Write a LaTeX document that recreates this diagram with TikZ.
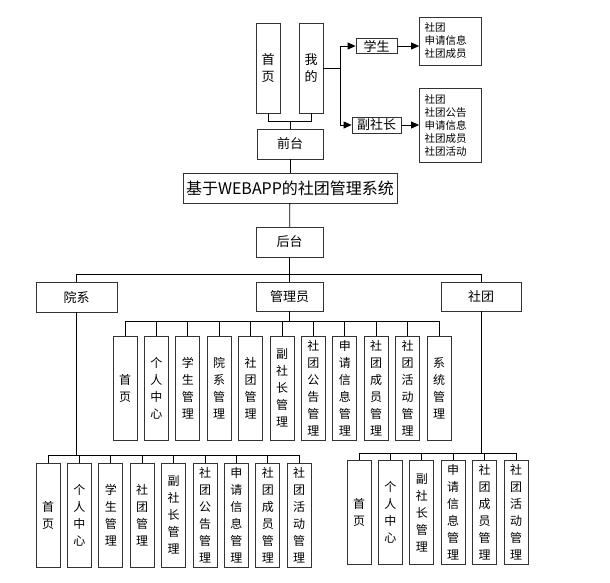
\documentclass[tikz,border=0pt]{standalone}
\usepackage{fontspec}
\newfontfamily\cjk{Noto Sans CJK SC}
\usetikzlibrary{positioning, arrows.meta}
\tikzset{
	box/.style={draw=black!80, line width=0.8pt, fill=white, inner sep=0pt,
			font=\cjk\fontsize{13}{15}\selectfont}
}
\tikzset{
	vbox/.style={box, minimum width=24pt, minimum height=104pt, align=center,
			font=\cjk\fontsize{12}{17}\selectfont}
}
\tikzset{
	infobox/.style={box, align=left, text width=52pt, inner xsep=5pt,
			font=\cjk\fontsize{10.5}{13}\selectfont}
}
\tikzset{
	link/.style={line width=0.8pt}
}
\begin{document}
\begin{tikzpicture}[x=1pt, y=-1pt]
	\useasboundingbox (0,0) rectangle (610,582);

	% front end
	\begin{scope}
		\node[box, minimum width=24pt, minimum height=90pt, align=center,
			font=\cjk\fontsize{13}{17}\selectfont] (home) at (268,68) {首\\页};
		\node[box, minimum width=24pt, minimum height=90pt, align=center,
			font=\cjk\fontsize{13}{17}\selectfont] (mine) at (311,68) {我\\的};
		\node[box, minimum width=66pt, minimum height=30pt] (front) at (290,144) {前台};

		\node[box, minimum width=41pt, minimum height=15pt] (student) at (376.5,46) {学生};
		\node[box, minimum width=49pt, minimum height=16pt] (vice) at (376.5,125) {副社长};

		\node[infobox, minimum height=48pt] (info1) at (450.5,41) {社团\\申请信息\\社团成员};
		\node[infobox, minimum height=74pt] (info2) at (450.5,125) {社团\\社团公告\\申请信息\\社团成员\\社团活动};

		\coordinate (frontbus) at (0,121);
		\coordinate (mybranch) at (340,0);

		\draw[link] (home) -- (home |- frontbus) -| (front);
		\draw[link] (mine) -- (mine |- frontbus) -| (front);
		\draw[link, -{Triangle[length=8pt,width=7pt]}] (mine) -- (mine -| mybranch) |- (student);
		\draw[link, -{Triangle[length=8pt,width=7pt]}] (mine) -- (mine -| mybranch) |- (vice);
		\draw[link, -{Triangle[length=8pt,width=7pt]}] (student) -- (student -| info1.west);
		\draw[link, -{Triangle[length=8pt,width=7pt]}] (vice) -- (vice -| info2.west);
	\end{scope}

	% system and back end
	\node[box, minimum width=214pt, minimum height=30pt,
		font=\cjk\fontsize{16}{18}\selectfont] (title) at (290,188) {基于WEBAPP的社团管理系统};
	\node[box, minimum width=67pt, minimum height=30pt] (backend) at (289.5,242) {后台};

	\draw[link] (front) -- (title);
	\draw[link] (title) -- (backend);

	\node[box, minimum width=81pt, minimum height=30pt] (dept) at (76.5,297) {院系};
	\node[box, minimum width=67pt, minimum height=29pt] (admin) at (289.5,296.5) {管理员};
	\node[box, minimum width=80pt, minimum height=29pt] (club) at (481,296.5) {社团};

	\coordinate (topbus) at (0,274);
	\draw[link] (backend) -- (admin);
	\draw[link] (backend) -- (backend |- topbus) -| (dept);
	\draw[link] (backend) -- (backend |- topbus) -| (club);

	% admin
	\begin{scope}
		\node[vbox] (a1) at (125,388) {首\\页};
		\node[vbox] (a2) at (156.4,388) {个\\人\\中\\心};
		\node[vbox] (a3) at (187.8,388) {学\\生\\管\\理};
		\node[vbox] (a4) at (219.2,388) {院\\系\\管\\理};
		\node[vbox] (a5) at (250.6,388) {社\\团\\管\\理};
		\node[vbox] (a6) at (282,388) {副\\社\\长\\管\\理};
		\node[vbox] (a7) at (313.4,388) {社\\团\\公\\告\\管\\理};
		\node[vbox] (a8) at (344.8,388) {申\\请\\信\\息\\管\\理};
		\node[vbox] (a9) at (376.2,388) {社\\团\\成\\员\\管\\理};
		\node[vbox] (a10) at (407.6,388) {社\\团\\活\\动\\管\\理};
		\node[vbox] (a11) at (439,388) {系\\统\\管\\理};

		\coordinate (adminbus) at (0,321);
		\draw[link] (admin) -- (admin |- adminbus) -| (a1);
		\draw[link] (admin) -- (admin |- adminbus) -| (a2);
		\draw[link] (admin) -- (admin |- adminbus) -| (a3);
		\draw[link] (admin) -- (admin |- adminbus) -| (a4);
		\draw[link] (admin) -- (admin |- adminbus) -| (a5);
		\draw[link] (admin) -- (admin |- adminbus) -| (a6);
		\draw[link] (admin) -- (admin |- adminbus) -| (a7);
		\draw[link] (admin) -- (admin |- adminbus) -| (a8);
		\draw[link] (admin) -- (admin |- adminbus) -| (a9);
		\draw[link] (admin) -- (admin |- adminbus) -| (a10);
		\draw[link] (admin) -- (admin |- adminbus) -| (a11);
	\end{scope}

	% department
	\begin{scope}
		\node[vbox] (d1) at (48,515) {首\\页};
		\node[vbox] (d2) at (79.4,515) {个\\人\\中\\心};
		\node[vbox] (d3) at (110.8,515) {学\\生\\管\\理};
		\node[vbox] (d4) at (142.2,515) {社\\团\\管\\理};
		\node[vbox] (d5) at (173.6,515) {副\\社\\长\\管\\理};
		\node[vbox] (d6) at (205,515) {社\\团\\公\\告\\管\\理};
		\node[vbox] (d7) at (236.4,515) {申\\请\\信\\息\\管\\理};
		\node[vbox] (d8) at (267.8,515) {社\\团\\成\\员\\管\\理};
		\node[vbox] (d9) at (299.2,515) {社\\团\\活\\动\\管\\理};

		\coordinate (deptbus) at (0,455);
		\draw[link] (dept) -- (dept |- deptbus) -| (d1);
		\draw[link] (dept) -- (dept |- deptbus) -| (d2);
		\draw[link] (dept) -- (dept |- deptbus) -| (d3);
		\draw[link] (dept) -- (dept |- deptbus) -| (d4);
		\draw[link] (dept) -- (dept |- deptbus) -| (d5);
		\draw[link] (dept) -- (dept |- deptbus) -| (d6);
		\draw[link] (dept) -- (dept |- deptbus) -| (d7);
		\draw[link] (dept) -- (dept |- deptbus) -| (d8);
		\draw[link] (dept) -- (dept |- deptbus) -| (d9);
	\end{scope}

	% club
	\begin{scope}
		\node[vbox] (c1) at (359,512.5) {首\\页};
		\node[vbox] (c2) at (390.4,512.5) {个\\人\\中\\心};
		\node[vbox] (c3) at (421.8,512.5) {副\\社\\长\\管\\理};
		\node[vbox] (c4) at (453.2,512.5) {申\\请\\信\\息\\管\\理};
		\node[vbox] (c5) at (484.6,512.5) {社\\团\\成\\员\\管\\理};
		\node[vbox] (c6) at (516,512.5) {社\\团\\活\\动\\管\\理};

		\coordinate (clubbus) at (0,453);
		\draw[link] (club) -- (club |- clubbus) -| (c1);
		\draw[link] (club) -- (club |- clubbus) -| (c2);
		\draw[link] (club) -- (club |- clubbus) -| (c3);
		\draw[link] (club) -- (club |- clubbus) -| (c4);
		\draw[link] (club) -- (club |- clubbus) -| (c5);
		\draw[link] (club) -- (club |- clubbus) -| (c6);
	\end{scope}

\end{tikzpicture}
\end{document}
